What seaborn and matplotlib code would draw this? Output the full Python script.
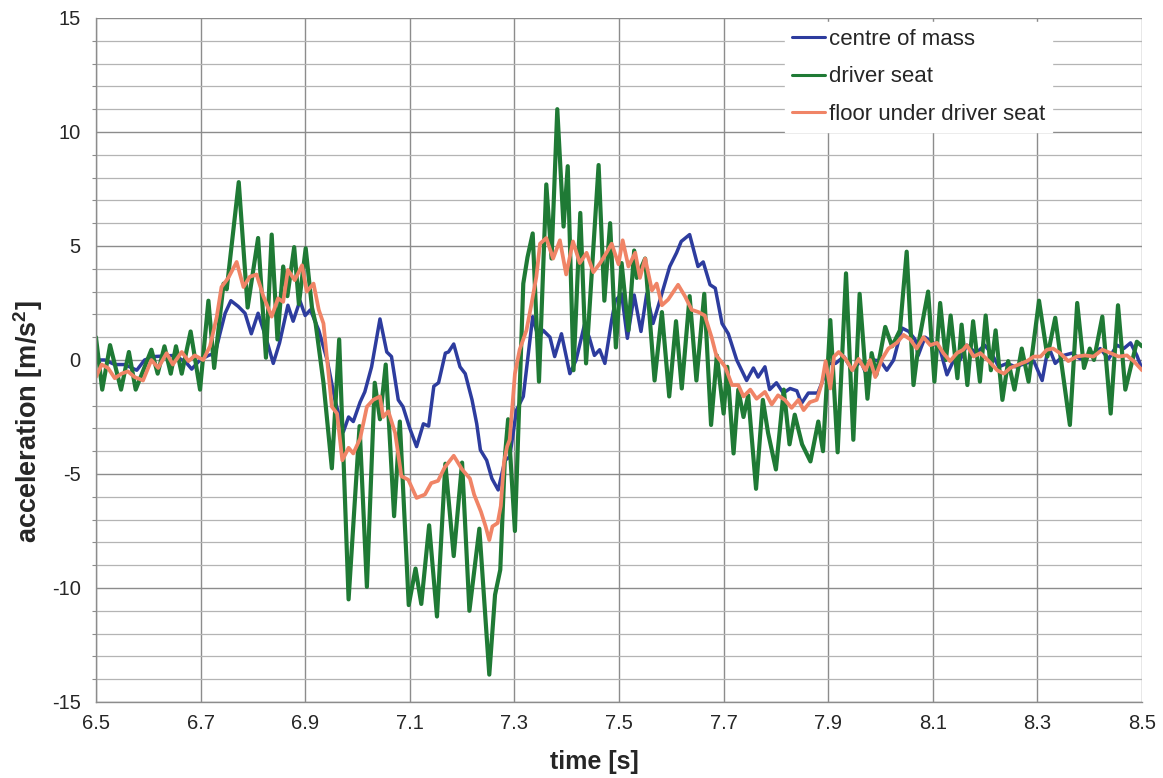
import matplotlib
matplotlib.use("Agg")
import matplotlib.pyplot as plt
from matplotlib.ticker import MultipleLocator
import seaborn as sns
import numpy as np

# centre of mass
t_com = [6.500, 6.517, 6.536, 6.555, 6.578, 6.593, 6.612, 6.650, 6.672, 6.683, 6.699, 6.715, 6.728,
         6.737, 6.747, 6.758, 6.772, 6.785, 6.797, 6.810, 6.826, 6.839, 6.851, 6.867, 6.877, 6.890,
         6.900, 6.910, 6.926, 6.942, 6.957, 6.973, 6.983, 6.992, 7.005, 7.014, 7.027, 7.043, 7.056,
         7.065, 7.078, 7.087, 7.100, 7.113, 7.126, 7.136, 7.146, 7.155, 7.168, 7.174, 7.184, 7.196,
         7.206, 7.219, 7.228, 7.235, 7.247, 7.257, 7.269, 7.275, 7.282, 7.291, 7.304, 7.317, 7.326,
         7.335, 7.346, 7.355, 7.368, 7.377, 7.390, 7.406, 7.418, 7.434, 7.443, 7.453, 7.463, 7.473,
         7.486, 7.493, 7.505, 7.516, 7.529, 7.542, 7.553, 7.565, 7.578, 7.597, 7.610, 7.619, 7.635,
         7.651, 7.661, 7.674, 7.684, 7.697, 7.709, 7.725, 7.744, 7.757, 7.766, 7.779, 7.788, 7.801,
         7.814, 7.827, 7.840, 7.849, 7.862, 7.880, 7.888, 7.901, 7.914, 7.930, 7.946, 7.962, 7.975,
         7.987, 8.000, 8.012, 8.025, 8.041, 8.054, 8.066, 8.072, 8.085, 8.101, 8.114, 8.127, 8.139,
         8.152, 8.165, 8.183, 8.199, 8.212, 8.226, 8.242, 8.258, 8.277, 8.293, 8.309, 8.321, 8.334,
         8.350, 8.366, 8.382, 8.401, 8.420, 8.436, 8.452, 8.465, 8.478, 8.490, 8.500]
a_com = [0.0, 0.0, -0.2, -0.2, -0.45, 0.0, 0.15, 0.2, -0.1, -0.4, 0.0, 0.2, 0.3,
         1.15, 2.05, 2.6, 2.35, 2.05, 1.15, 2.05, 0.9, -0.15, 0.75, 2.4, 1.7, 2.6,
         1.95, 2.2, 1.3, 0.0, -1.75, -3.15, -2.5, -2.7, -1.85, -1.4, -0.3, 1.8, 0.35,
         0.15, -1.75, -2.05, -3.0, -3.8, -2.8, -2.9, -1.15, -1.0, 0.3, 0.35, 0.7, -0.3,
         -0.6, -1.75, -2.8, -3.95, -4.4, -5.2, -5.7, -5.1, -4.4, -4.25, -2.2, -1.6, 0.15,
         1.9, 0.95, 1.3, 1.0, 0.15, 1.15, -0.6, 0.0, 1.55, 1.0, 0.2, 0.45, -0.15,
         1.75, 2.6, 2.9, 0.95, 2.85, 1.25, 2.9, 1.6, 2.6, 4.1, 4.7, 5.2, 5.5,
         4.1, 4.3, 3.3, 3.15, 1.6, 1.15, 0.0, -0.9, -0.35, -0.75, -0.3, -1.3, -1.0,
         -1.45, -1.25, -1.35, -1.9, -1.45, -1.45, -1.0, -0.15, -0.15, 0.15, -0.45, -0.05, -0.75,
         0.0, -0.05, -0.45, 0.0, 1.4, 1.25, 0.9, 0.2, 1.0, 0.75, 0.45, -0.65, -0.05,
         0.0, 0.65, 0.3, 0.65, 0.3, -0.3, -0.15, -0.3, -0.15, -0.05, -0.9, 0.6, -0.15,
         0.2, 0.3, 0.05, 0.2, 0.5, 0.05, 0.65, 0.5, 0.75, 0.2, -0.4]

# driver seat
t_seat = [6.500, 6.512, 6.527, 6.548, 6.563, 6.576, 6.606, 6.618, 6.631, 6.643, 6.653, 6.664, 6.681,
          6.699, 6.715, 6.726, 6.744, 6.750, 6.773, 6.790, 6.810, 6.825, 6.836, 6.847, 6.858, 6.866,
          6.879, 6.888, 6.901, 6.913, 6.920, 6.935, 6.951, 6.965, 6.983, 7.004, 7.018, 7.033, 7.043,
          7.054, 7.070, 7.081, 7.098, 7.111, 7.122, 7.137, 7.152, 7.168, 7.184, 7.200, 7.214, 7.233,
          7.252, 7.263, 7.273, 7.282, 7.288, 7.301, 7.317, 7.325, 7.335, 7.347, 7.361, 7.371, 7.382,
          7.394, 7.402, 7.413, 7.426, 7.437, 7.461, 7.472, 7.483, 7.494, 7.505, 7.518, 7.529, 7.534,
          7.550, 7.568, 7.582, 7.596, 7.609, 7.620, 7.635, 7.648, 7.663, 7.676, 7.687, 7.700, 7.707,
          7.719, 7.728, 7.738, 7.747, 7.762, 7.775, 7.785, 7.800, 7.815, 7.826, 7.836, 7.850, 7.866,
          7.881, 7.890, 7.904, 7.918, 7.934, 7.948, 7.960, 7.975, 7.983, 7.992, 8.009, 8.022, 8.037,
          8.050, 8.063, 8.074, 8.091, 8.103, 8.114, 8.125, 8.134, 8.147, 8.155, 8.166, 8.177, 8.190,
          8.201, 8.211, 8.220, 8.233, 8.244, 8.256, 8.270, 8.283, 8.303, 8.319, 8.334, 8.362, 8.376,
          8.389, 8.400, 8.408, 8.424, 8.440, 8.454, 8.468, 8.490, 8.500]
a_seat = [1.0, -1.3, 0.65, -1.3, 0.35, -1.3, 0.45, -0.6, 0.6, -0.6, 0.6, -0.6, 1.25,
          -1.3, 2.6, -0.35, 3.35, 3.1, 7.8, 2.3, 5.35, 0.1, 5.5, 0.9, 4.1, 2.8,
          4.95, 2.45, 4.9, 2.3, 1.6, -1.0, -4.75, 0.9, -10.5, -2.9, -9.95, -1.0, -2.6,
          -0.2, -6.85, -2.7, -10.75, -9.15, -10.7, -7.25, -11.25, -4.55, -8.6, -4.5, -11.0, -7.4,
          -13.8, -10.3, -9.2, -4.2, -2.6, -7.5, 3.35, 4.5, 5.55, -0.95, 7.7, 4.45, 11.0,
          5.85, 8.5, -0.45, 6.45, -0.15, 8.55, 2.6, 6.0, 0.55, 4.25, 1.3, 4.8, 3.6,
          4.45, -0.9, 2.1, -1.6, 1.7, -1.25, 2.8, -0.9, 2.9, -2.85, 0.2, -2.35, -0.3,
          -4.1, -1.3, -2.5, -1.55, -5.65, -1.75, -3.2, -4.8, -1.3, -3.7, -2.4, -3.7, -4.45,
          -2.7, -4.0, 1.75, -4.05, 3.8, -3.5, 2.9, -1.7, 0.3, -0.65, 1.45, 0.6, 1.3,
          4.75, -1.1, 0.9, 3.0, -0.95, 2.5, 0.0, 1.95, -0.8, 1.55, -1.1, 1.7, -0.95,
          1.95, -0.45, 1.3, -1.75, -0.05, -1.3, 0.5, -0.95, 2.6, 0.15, 1.85, -2.85, 2.5,
          -0.35, 0.5, 0.0, 1.9, -2.35, 2.4, -1.3, 0.8, 0.6]

# floor under driver seat
t_floor = [6.500, 6.511, 6.523, 6.536, 6.549, 6.561, 6.574, 6.590, 6.606, 6.619, 6.635, 6.647, 6.664,
           6.677, 6.689, 6.705, 6.718, 6.731, 6.740, 6.753, 6.769, 6.782, 6.794, 6.807, 6.820, 6.836,
           6.848, 6.858, 6.867, 6.880, 6.894, 6.903, 6.916, 6.926, 6.935, 6.942, 6.951, 6.961, 6.971,
           6.983, 6.992, 7.005, 7.018, 7.030, 7.043, 7.049, 7.059, 7.072, 7.084, 7.097, 7.113, 7.129,
           7.141, 7.154, 7.167, 7.184, 7.200, 7.215, 7.223, 7.236, 7.245, 7.252, 7.258, 7.268, 7.274,
           7.280, 7.286, 7.291, 7.301, 7.310, 7.323, 7.333, 7.342, 7.349, 7.361, 7.374, 7.387, 7.399,
           7.412, 7.425, 7.438, 7.451, 7.464, 7.476, 7.486, 7.499, 7.507, 7.518, 7.531, 7.540, 7.550,
           7.563, 7.572, 7.582, 7.594, 7.613, 7.626, 7.639, 7.652, 7.664, 7.677, 7.686, 7.703, 7.716,
           7.728, 7.738, 7.751, 7.763, 7.779, 7.792, 7.804, 7.817, 7.830, 7.843, 7.853, 7.865, 7.878,
           7.888, 7.895, 7.904, 7.911, 7.920, 7.933, 7.946, 7.958, 7.971, 7.980, 7.990, 8.003, 8.015,
           8.031, 8.044, 8.057, 8.069, 8.082, 8.095, 8.108, 8.120, 8.133, 8.146, 8.158, 8.165, 8.178,
           8.191, 8.207, 8.223, 8.236, 8.248, 8.264, 8.280, 8.293, 8.306, 8.318, 8.330, 8.343, 8.359,
           8.375, 8.391, 8.407, 8.424, 8.440, 8.455, 8.471, 8.484, 8.500]
a_floor = [-0.75, -0.2, -0.35, -0.8, -0.6, -0.5, -0.75, -0.9, 0.0, -0.35, 0.3, -0.2, 0.35,
           -0.05, 0.2, 0.0, 0.6, 1.9, 3.2, 3.6, 4.3, 3.2, 3.65, 3.75, 2.8, 1.9,
           2.7, 2.55, 3.95, 3.5, 4.15, 3.0, 3.35, 2.2, 1.6, 0.0, -2.05, -2.35, -4.4,
           -3.85, -4.1, -3.45, -2.05, -1.75, -1.6, -2.5, -2.25, -3.2, -5.1, -5.25, -6.05, -5.9,
           -5.4, -5.3, -4.7, -4.2, -4.8, -5.2, -5.9, -6.65, -7.3, -7.9, -7.3, -7.15, -6.4,
           -4.5, -3.8, -3.5, -0.6, 0.45, 1.3, 2.5, 3.65, 5.1, 5.35, 4.45, 5.25, 3.75,
           5.2, 4.25, 4.7, 3.85, 4.25, 4.7, 5.1, 4.2, 5.25, 4.1, 4.7, 3.6, 4.45,
           3.05, 3.35, 2.4, 2.65, 3.3, 2.8, 2.2, 2.1, 1.95, 1.0, 0.2, -0.3, -1.1,
           -1.1, -1.6, -1.3, -1.7, -1.4, -1.95, -1.55, -1.75, -2.1, -1.75, -2.2, -1.85, -1.75,
           -1.0, -0.05, -1.25, 0.15, 0.35, 0.05, -0.45, 0.05, -0.45, 0.0, -0.75, 0.05, 0.5,
           0.75, 1.1, 0.9, 0.5, 1.0, 0.65, 0.75, 0.3, -0.05, 0.3, 0.45, 0.65, 0.15,
           0.3, -0.05, -0.45, -0.6, -0.35, -0.2, -0.05, 0.15, 0.15, 0.45, 0.5, 0.3, -0.05,
           0.15, 0.2, 0.15, 0.45, 0.3, 0.15, 0.2, -0.05, -0.45]

x_ticks = [6.5, 6.7, 6.9, 7.1, 7.3, 7.5, 7.7, 7.9, 8.1, 8.3, 8.5]
y_ticks = [-15, -10, -5, 0, 5, 10, 15]

sns.set_style("white")
plt.rcParams['font.family'] = ['Liberation Sans', 'DejaVu Sans']
plt.rcParams['axes.unicode_minus'] = False
plt.rcParams['mathtext.fontset'] = 'custom'
plt.rcParams['mathtext.rm'] = 'Liberation Sans'
plt.rcParams['mathtext.bf'] = 'Liberation Sans:bold'

fig = plt.figure(figsize=(11.63, 7.78), dpi=100)
ax = fig.add_axes([0.0825, 0.0977, 0.8995, 0.8792])

kw = dict(ax=ax, estimator=None, solid_joinstyle='round', solid_capstyle='round')
sns.lineplot(x=t_com, y=a_com, color='#2d3c9e', lw=2.5, label='centre of mass', **kw)
sns.lineplot(x=t_seat, y=a_seat, color='#1f7a35', lw=3.0, label='driver seat', **kw)
sns.lineplot(x=t_floor, y=a_floor, color='#f08466', lw=2.7, label='floor under driver seat', **kw)

ax.set_xlim(6.5, 8.5)
ax.set_ylim(-15, 15)
ax.set_xticks(x_ticks)
ax.set_xticklabels([f'{v:.1f}' for v in x_ticks])
ax.set_yticks(y_ticks)
ax.yaxis.set_minor_locator(MultipleLocator(1))

ax.grid(True, which='major', color='#8c8c8c', lw=1.0)
ax.grid(True, which='minor', axis='y', color='#b4b4b4', lw=0.9)
ax.set_axisbelow(True)

for s in ['top', 'right']:
    ax.spines[s].set_visible(False)
for s in ['left', 'bottom']:
    ax.spines[s].set_color('#8c8c8c')
    ax.spines[s].set_linewidth(1.0)

ax.tick_params(which='major', direction='out', length=5, width=1, color='#8c8c8c', labelsize=14.5, pad=6)
ax.tick_params(which='minor', axis='y', direction='out', length=3, width=0.8, color='#8c8c8c', left=True)
ax.tick_params(axis='x', pad=4)

ax.set_xlabel('time [s]', fontsize=18, fontweight='bold')
ax.set_ylabel(r'acceleration [m/s$^{\mathbf{2}}$]', fontsize=19.5, fontweight='bold')
ax.xaxis.set_label_coords(0.476, -0.07)
ax.yaxis.set_label_coords(-0.049, 0.41)

leg = ax.legend(loc='upper left', bbox_to_anchor=(0.659, 0.994), borderaxespad=0, fontsize=16,
                handlelength=1.5, handletextpad=0.15, labelspacing=0.75, frameon=True,
                fancybox=False, framealpha=1.0, edgecolor='white', facecolor='white',
                borderpad=0.3)
for line in leg.get_lines():
    line.set_linewidth(2.2)

fig.savefig('out.png', dpi=100)
